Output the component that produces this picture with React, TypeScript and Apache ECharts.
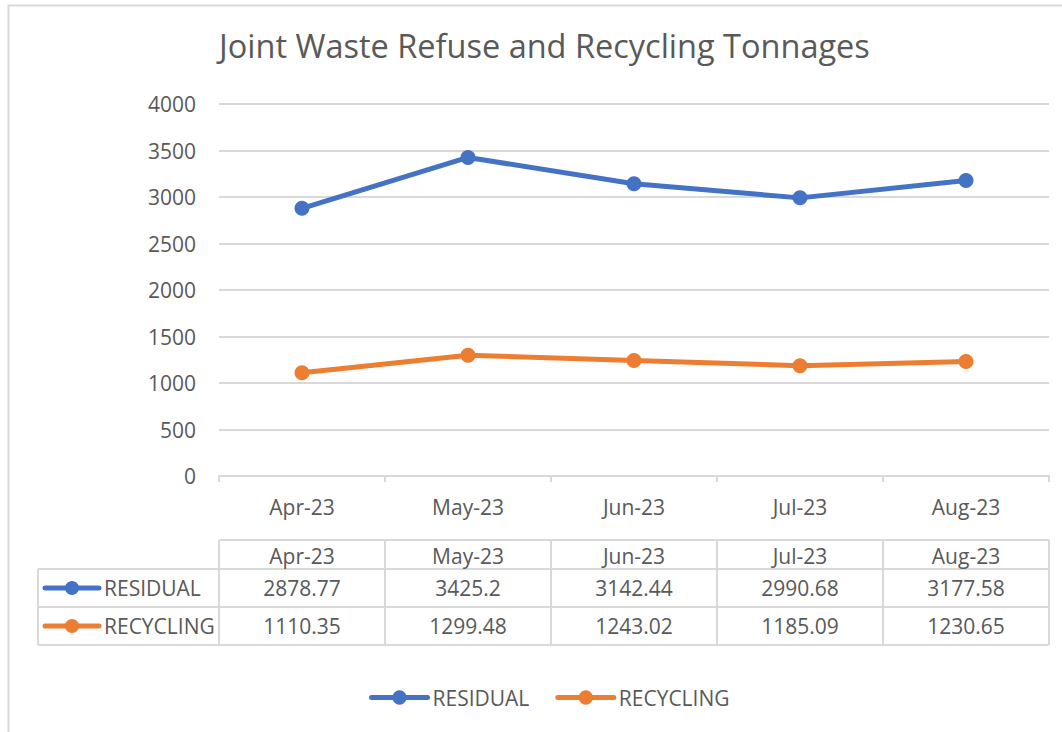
import React, { useEffect, useRef } from "react";
import * as echarts from "echarts";

const categories = ["Apr-23", "May-23", "Jun-23", "Jul-23", "Aug-23"];
const residual = [2878.77, 3425.2, 3142.44, 2990.68, 3177.58];
const recycling = [1110.35, 1299.48, 1243.02, 1185.09, 1230.65];
const seriesNames = ["RESIDUAL", "RECYCLING"];
const seriesValues = [residual, recycling];
const colors = ["#4472C4", "#ED7D31"];
const yMin = 0;
const yMax = 4000;
const yStep = 500;
const titleText = "Joint Waste Refuse and Recycling Tonnages";

const W = 1062;
const H = 732;
const GL = 219;
const GR = 1049;
const GT = 104;
const GB = 476;
const FONT = "Open Sans";
const TXT = "#595959";
const LINE = "#d9d9d9";

function buildTable() {
  const els: any[] = [];
  const n = categories.length;
  const colW = (GR - GL) / n;
  const rowTop = 540;
  const rowYs = [540, 569, 607, 645];
  const tableLeft = 38;
  const ls = { stroke: LINE, lineWidth: 2 };
  els.push({ type: "line", shape: { x1: GL, y1: rowYs[0], x2: GR, y2: rowYs[0] }, style: ls });
  for (let i = 1; i < rowYs.length; i++) {
    els.push({ type: "line", shape: { x1: tableLeft, y1: rowYs[i], x2: GR, y2: rowYs[i] }, style: ls });
  }
  els.push({ type: "line", shape: { x1: tableLeft, y1: rowYs[1], x2: tableLeft, y2: rowYs[3] }, style: ls });
  for (let i = 0; i <= n; i++) {
    const x = GL + i * colW;
    els.push({ type: "line", shape: { x1: x, y1: rowTop, x2: x, y2: rowYs[3] }, style: ls });
  }
  categories.forEach((c, i) => {
    els.push({
      type: "text",
      x: GL + (i + 0.5) * colW,
      y: (rowYs[0] + rowYs[1]) / 2 + 1,
      style: { text: c, fill: TXT, font: `21px "${FONT}"`, align: "center", verticalAlign: "middle" },
    });
  });
  seriesNames.forEach((name, r) => {
    const cy = (rowYs[r + 1] + rowYs[r + 2]) / 2;
    els.push({
      type: "line",
      shape: { x1: 45, y1: cy, x2: 99, y2: cy },
      style: { stroke: colors[r], lineWidth: 5, lineCap: "round" },
    });
    els.push({ type: "circle", shape: { cx: 72, cy: cy, r: 7 }, style: { fill: colors[r] } });
    els.push({
      type: "text",
      x: 104,
      y: cy,
      style: { text: name, fill: TXT, font: `21px "${FONT}"`, align: "left", verticalAlign: "middle" },
    });
    seriesValues[r].forEach((v, i) => {
      els.push({
        type: "text",
        x: GL + (i + 0.5) * colW,
        y: cy,
        style: { text: String(v), fill: TXT, font: `21px "${FONT}"`, align: "center", verticalAlign: "middle" },
      });
    });
  });
  return els;
}

export default function App() {
  const ref = useRef<HTMLDivElement>(null);
  useEffect(() => {
    if (!ref.current) return;
    const chart = echarts.init(ref.current, null, { renderer: "svg" });
    chart.setOption({
      animation: false,
      backgroundColor: "#ffffff",
      textStyle: { fontFamily: FONT },
      title: {
        text: titleText,
        left: 214,
        top: 24,
        textStyle: { fontFamily: FONT, fontSize: 32.5, fontWeight: "normal", color: TXT },
      },
      legend: {
        left: 364,
        top: 682,
        itemWidth: 56,
        itemHeight: 18,
        itemGap: 26,
        lineStyle: { width: 5, cap: "round" },
        textStyle: { fontFamily: FONT, fontSize: 21, color: TXT },
        data: seriesNames,
      },
      grid: { left: GL, right: W - GR, top: GT, bottom: H - GB, containLabel: false },
      xAxis: {
        type: "category",
        data: categories,
        boundaryGap: true,
        axisLine: { lineStyle: { color: LINE, width: 2 } },
        axisTick: { show: true, length: 6, lineStyle: { color: LINE, width: 2 } },
        axisLabel: { color: TXT, fontSize: 21, fontFamily: FONT, margin: 20 },
      },
      yAxis: {
        type: "value",
        min: yMin,
        max: yMax,
        interval: yStep,
        axisLine: { show: false },
        axisTick: { show: false },
        axisLabel: { color: TXT, fontSize: 21, fontFamily: FONT, margin: 23, formatter: (v: number) => String(v) },
        splitLine: { lineStyle: { color: LINE, width: 2 } },
      },
      series: seriesNames.map((name, i) => ({
        name,
        type: "line",
        data: seriesValues[i],
        symbol: "circle",
        symbolSize: 15,
        itemStyle: { color: colors[i] },
        lineStyle: { color: colors[i], width: 5 },
      })),
      graphic: [
        {
          type: "rect",
          shape: { x: 8.5, y: 5.5, width: 1200, height: 1200 },
          style: { fill: "none", stroke: LINE, lineWidth: 2 },
          silent: true,
          z: -1,
        },
        ...buildTable(),
      ],
    });
    return () => chart.dispose();
  }, []);
  return (
    <div
      ref={ref}
      style={{ position: "absolute", left: 0, top: 0, width: W, height: H }}
    />
  );
}
